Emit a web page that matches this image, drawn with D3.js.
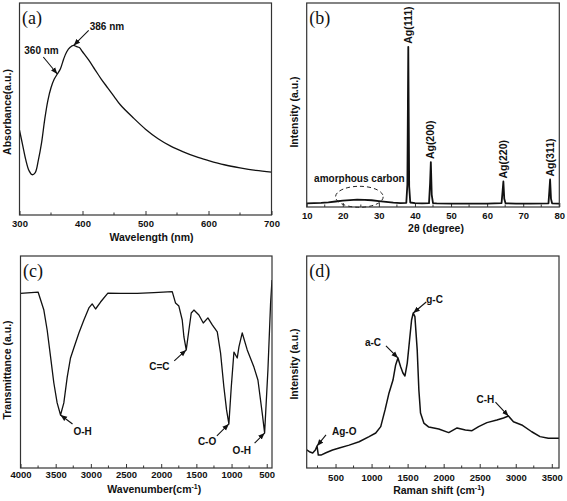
<!DOCTYPE html>
<html><head><meta charset="utf-8">
<script src="https://cdn.jsdelivr.net/npm/d3@7"></script>
<style>
html,body{margin:0;padding:0;background:#fff;}
text{font-family:"Liberation Sans",Arial,sans-serif;font-weight:bold;fill:#111;}
.plabel{font-family:"Liberation Serif","Times New Roman",serif;font-weight:normal;font-size:18px;}
</style></head>
<body>
<svg id="c" width="567" height="501"></svg>
<script>
// (a) UV-vis absorbance
const uvWavelength = [300,305,310,315,320,325,330,335,340,345,350,355,360,365,370,375,380,386,390,395,400,410,420,430,440,450,460,480,500,520,540,560,580,600,625,650,675,700];
const uvAbsorbance = [40,33,26,21,19,20,26,34,45,54,60,64,66.5,69,73.5,77,79,80,79.5,79,77,73,68.5,64,60,56,52,46,40.5,36,32.5,29.8,27.5,25.7,23.7,22.2,21,20.2];
const uvTicks = [300,400,500,600,700];

// (b) XRD
const xrdTheta = [10,12,14,16,18,20,22,24,26,28,30,32,34,36,37.6,37.9,38.15,38.4,38.7,40,42,43.9,44.2,44.4,44.65,45,46,50,55,60,64.0,64.3,64.5,64.75,65.1,68,72,77.0,77.25,77.45,77.7,78,80];
const xrdIntensity = [18,19,20,23,27,31,34,36,35,33,29,25,21,19,20,110,785,100,22,19,18,19,120,220,60,19,18,17,17,17,19,80,125,40,18,17,17,18,80,135,40,18,17];
const xrdTicks = [10,20,30,40,50,60,70,80];
const xrdPeaks = [{name:"Ag(111)",t:38.15,v:785},{name:"Ag(200)",t:44.4,v:220},{name:"Ag(220)",t:64.5,v:125},{name:"Ag(311)",t:77.45,v:135}];

// (c) FTIR
const irWavenumber = [4000,3750,3668,3621,3573,3526,3479,3431,3384,3336,3289,3242,3170,3099,3028,2981,2933,2862,2758,2578,2341,2104,1843,1796,1749,1701,1677,1644,1606,1573,1535,1464,1402,1336,1274,1203,1156,1109,1071,1038,1004,966,919,895,848,777,682,625,564,530,483,445,425];
const irTransmittance = [82.4,83.0,74.5,65.1,52.5,40.1,30.7,25.0,30.7,42.9,51.9,56.6,63.7,69.8,75.5,77.4,75.0,78.3,82.5,82.4,82.4,82.7,83.2,77.8,76.4,69.8,61.8,55.7,65.1,73.1,74.5,72.2,68.4,70.8,67.5,64.2,54.2,38.2,27.4,20.8,38.2,54.7,51.9,57.1,63.7,55.7,47.6,41.5,25.9,16.5,46.2,77.8,88.7];
const irTicks = [4000,3500,3000,2500,2000,1500,1000,500];

// (d) Raman
const ramanShift = [100,137,183,220,243,261,298,367,459,551,689,827,966,1058,1127,1187,1242,1297,1334,1366,1403,1435,1463,1495,1527,1555,1578,1601,1633,1656,1679,1725,1794,1932,2070,2186,2301,2393,2485,2600,2738,2830,2899,2968,3083,3222,3337,3452,3600];
const ramanIntensity = [8.5,7.7,7.1,8.5,10.4,6.1,6.1,7.2,8.5,9.4,10.8,12.4,14.8,16.5,19.5,27.4,35.4,41.5,48.6,51.9,47.8,44.8,43.4,49.5,60.4,69.8,73.1,71.4,55.7,36.8,25.9,21.2,19.3,18.4,16.7,18.9,17.9,17.6,19.5,21.4,22.6,23.6,24.5,21.8,20.3,17.1,14.8,14.0,14.0];
const ramanTicks = [500,1000,1500,2000,2500,3000,3500];

const svg = d3.select("#c");
const defs = svg.append("defs");
defs.append("marker").attr("id","arr").attr("viewBox","0 0 10 10").attr("refX",10).attr("refY",5)
  .attr("markerWidth",6).attr("markerHeight",6).attr("orient","auto")
  .append("path").attr("d","M0,1 L10,5 L0,9 Z").attr("fill","#111");

function panel(o){
  const x = d3.scaleLinear().domain(o.xdom).range([o.x0,o.x1]);
  const y = d3.scaleLinear().domain(o.ydom).range([o.y1,o.y0]);
  const g = svg.append("g");
  const cid = "clip"+o.id;
  defs.append("clipPath").attr("id",cid).append("rect").attr("x",o.x0).attr("y",o.y0).attr("width",o.x1-o.x0).attr("height",o.y1-o.y0);
  g.append("g").selectAll("line").data(o.minor).join("line")
    .attr("x1",d=>x(d)).attr("x2",d=>x(d)).attr("y1",o.y1).attr("y2",o.y1-2.5)
    .attr("stroke","#333").attr("stroke-width",1);
  const ax = d3.axisBottom(x).tickValues(o.ticks).tickSize(-4).tickPadding(o.pad).tickFormat(d3.format("d"));
  const axg = g.append("g").attr("transform",`translate(0,${o.y1})`).call(ax);
  axg.select(".domain").remove();
  axg.selectAll(".tick line").attr("stroke","#333").attr("stroke-width",1);
  axg.selectAll(".tick text").style("font-size","9.5px").style("font-family","'Liberation Sans',Arial,sans-serif").style("font-weight","bold").attr("fill","#111");
  const pts = o.xs.map((v,i)=>[v,o.ys[i]]);
  const line = d3.line().x(d=>x(d[0])).y(d=>y(d[1])).curve(o.curve||d3.curveLinear);
  g.append("path").attr("d",line(pts)).attr("fill","none").attr("stroke","#111")
    .attr("stroke-width",o.lw||1.3).attr("stroke-linejoin","round").attr("clip-path",`url(#${cid})`);
  g.append("rect").attr("x",o.x0).attr("y",o.y0).attr("width",o.x1-o.x0).attr("height",o.y1-o.y0)
    .attr("fill","none").attr("stroke","#333").attr("stroke-width",1.2);
  g.append("text").attr("x",(o.x0+o.x1)/2 + (o.xtdx||0)).attr("y",o.xty).attr("text-anchor","middle")
    .style("font-size","10.5px").html(o.xtitle);
  g.append("text").attr("transform",`translate(${o.ytx},${o.yty}) rotate(-90)`).attr("text-anchor","middle")
    .style("font-size","10.5px").text(o.ytitle);
  g.append("text").attr("class","plabel").attr("x",o.x0+2.5).attr("y",o.y0+21).text(o.label);
  return {x,y,g};
}

function annotate(p, txt, tx, ty, ax0, ay0, dx, dy, anchor){
  const px = p.x(dx), py = p.y(dy);
  p.g.append("line").attr("x1",px+ax0).attr("y1",py+ay0).attr("x2",px).attr("y2",py)
    .attr("stroke","#111").attr("stroke-width",1.1).attr("marker-end","url(#arr)");
  p.g.append("text").attr("x",px+tx).attr("y",py+ty).attr("text-anchor",anchor||"start").style("font-size","10px").text(txt);
}

// (a)
const pa = panel({id:"a",xdom:[300,700],ydom:[0,100],x0:19.5,x1:271.5,y0:3,y1:215,
  ticks:uvTicks,minor:[350,450,550,650],pad:5,xs:uvWavelength,ys:uvAbsorbance,curve:d3.curveCatmullRom,
  xtitle:"Wavelength (nm)",xty:241,xtdx:6,ytitle:"Absorbance(a.u.)",ytx:11,yty:112,label:"(a)"});
annotate(pa,"360 nm",-33,-20,-14,-17,360,66.5);
annotate(pa,"386 nm",16,-15,15,-15,386,80);

// (b)
const pb = panel({id:"b",xdom:[10,80],ydom:[0,1000],x0:306.7,x1:559.3,y0:3,y1:207,
  ticks:xrdTicks,minor:[15,25,35,45,55,65,75],pad:5,xs:xrdTheta,ys:xrdIntensity,lw:1.8,
  xtitle:"2θ (degree)",xty:232,xtdx:3,ytitle:"Intensity (a.u.)",ytx:298,yty:112,label:"(b)"});
xrdPeaks.forEach(d=>{
  pb.g.append("text").attr("transform",`translate(${pb.x(d.t)+3.5},${pb.y(d.v)-3}) rotate(-90)`)
    .attr("text-anchor","start").style("font-size","10.5px").text(d.name);
});
pb.g.append("ellipse").attr("cx",pb.x(24.6)).attr("cy",pb.y(50)).attr("rx",pb.x(31.2)-pb.x(24.6)).attr("ry",10.5)
  .attr("fill","none").attr("stroke","#222").attr("stroke-width",1).attr("stroke-dasharray","4,3");
pb.g.append("text").attr("x",pb.x(24.6)).attr("y",pb.y(125)).attr("text-anchor","middle").style("font-size","10px").text("amorphous carbon");

// (c)
const pc = panel({id:"c",xdom:[4000,425],ydom:[0,100],x0:20.5,x1:272,y0:256,y1:468,
  ticks:irTicks,minor:[3750,3250,2750,2250,1750,1250,750],pad:3.5,xs:irWavenumber,ys:irTransmittance,
  xtitle:"Wavenumber(cm<tspan dy='-4' font-size='7px'>-1</tspan><tspan dy='4'>)</tspan>",xty:493,xtdx:8,
  ytitle:"Transmittance (a.u.)",ytx:11,yty:370,label:"(c)"});
annotate(pc,"O-H",13,20,12,9,3431,25.0);
annotate(pc,"C=C",-37,20,-12,11,1644,55.7);
annotate(pc,"C-O",-31,21,-12,12,1038,20.8);
annotate(pc,"O-H",-32,21,-10,10,530,16.5);

// (d)
const pd = panel({id:"d",xdom:[100,3600],ydom:[0,100],x0:306.7,x1:559,y0:256,y1:468,
  ticks:ramanTicks,minor:[250,750,1250,1750,2250,2750,3250],pad:6,xs:ramanShift,ys:ramanIntensity,lw:1.5,
  xtitle:"Raman shift (cm<tspan dy='-4' font-size='7px'>-1</tspan><tspan dy='4'>)</tspan>",xty:494,xtdx:6,
  ytitle:"Intensity (a.u.)",ytx:298,yty:364,label:"(d)"});
annotate(pd,"Ag-O",15,-11,9,-11,243,10.4);
annotate(pd,"a-C",-33,-12,-12,-12,1366,51.9);
annotate(pd,"g-C",13,-10,13,-11,1578,73.1);
annotate(pd,"C-H",-32,-13,-13,-14,2899,24.5);
</script>
</body></html>
